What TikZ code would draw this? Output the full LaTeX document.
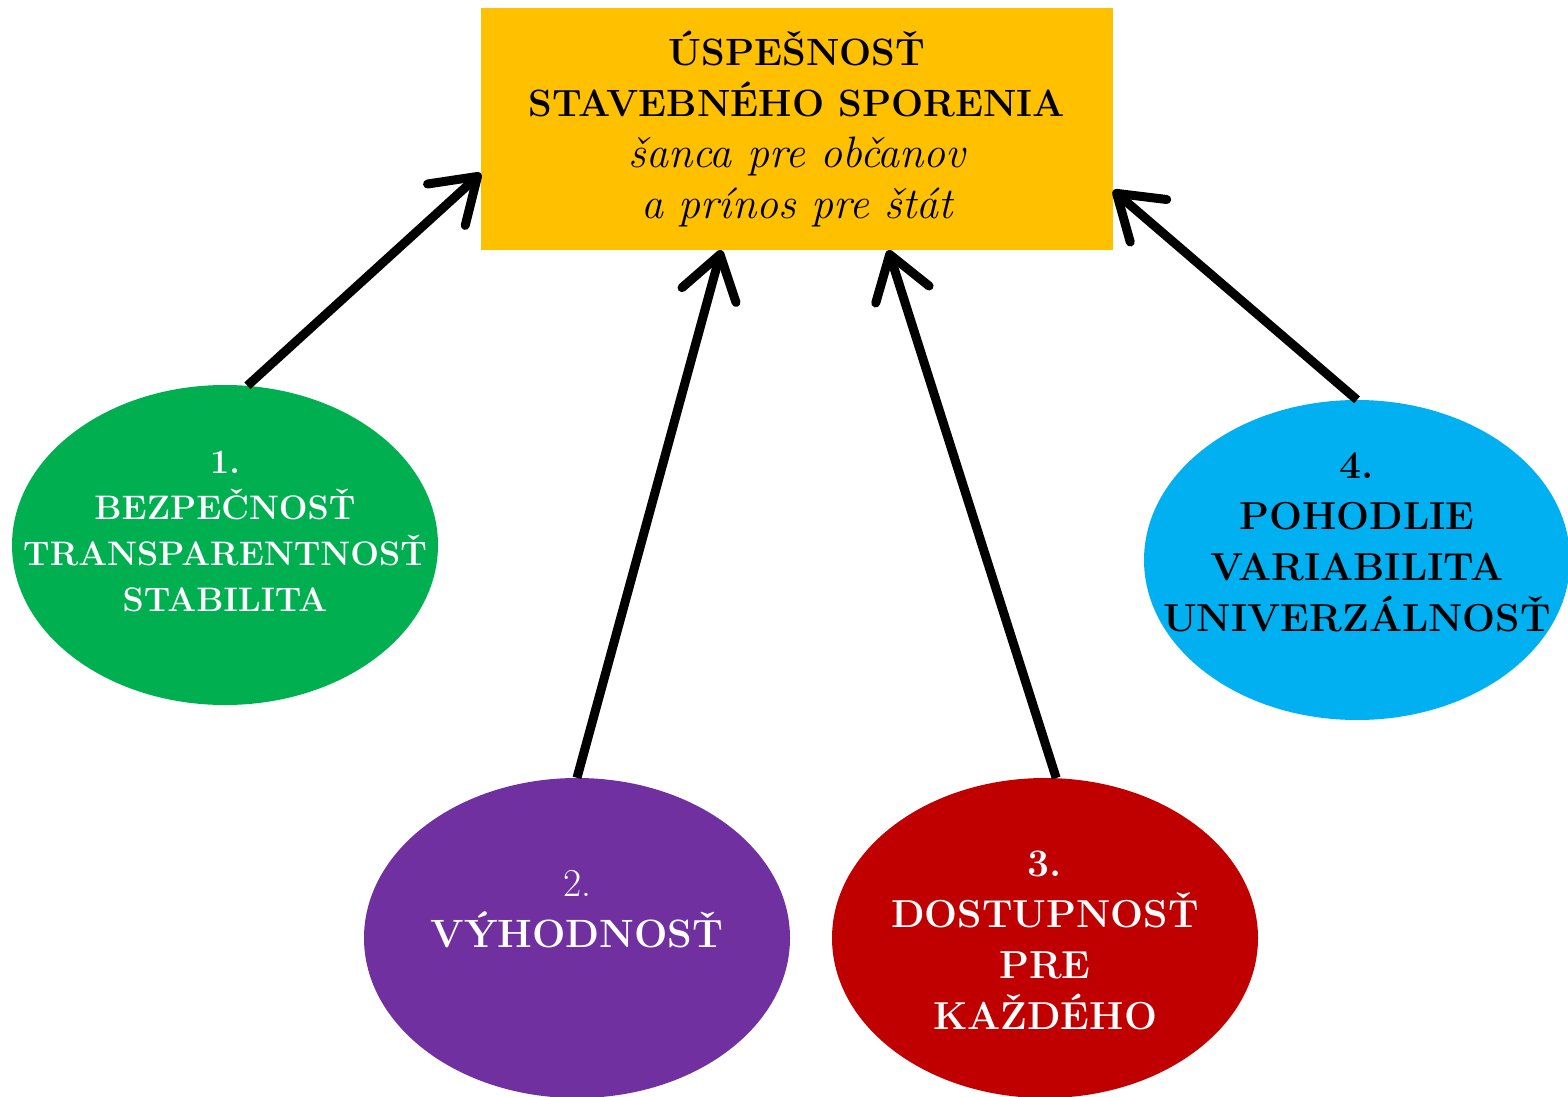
\documentclass[tikz,border=0pt]{standalone}
\usetikzlibrary{arrows.meta,shapes.geometric}
\definecolor{boxyellow}{HTML}{FFC000}
\definecolor{cgreen}{HTML}{00B050}
\definecolor{cpurple}{HTML}{7030A0}
\definecolor{cred}{HTML}{C00000}
\definecolor{cblue}{HTML}{00B0F0}
\begin{document}
\begin{tikzpicture}[x=1pt,y=-1pt,
  oval/.style={ellipse, minimum width=426pt, minimum height=320pt, inner sep=0pt},
  lbl/.style={align=center, inner sep=0pt},
  conn/.style={line width=9pt, -{Straight Barb[length=42pt,width=56pt,round]}}]
\useasboundingbox (0,0) rectangle (1568,1097);
\node[fill=boxyellow, minimum width=632pt, minimum height=242pt, inner sep=0pt, align=center,
  font=\fontsize{38}{51}\selectfont] (top) at (797,129)
  {\textbf{ÚSPEŠNOSŤ}\\ \textbf{STAVEBNÉHO SPORENIA}\\ {\fontsize{44}{51}\selectfont\itshape šanca pre občanov}\\ {\fontsize{44}{51}\selectfont\itshape a prínos pre štát}};
\node[oval, fill=cgreen] (g) at (225,545) {};
\node[oval, fill=cpurple] (p) at (577,938) {};
\node[oval, fill=cred] (r) at (1045,938) {};
\node[oval, fill=cblue] (b) at (1357,560) {};
\node[lbl, text=white, font=\fontsize{34}{46}\selectfont\bfseries] (gl) at (225,532)
  {1.\\ BEZPEČNOSŤ\\ TRANSPARENTNOSŤ\\ STABILITA};
\node[lbl, text=white, font=\fontsize{39.5}{51}\selectfont] (pl) at (577,909)
  {2.\\ \textbf{VÝHODNOSŤ}};
\node[lbl, text=white, font=\fontsize{39}{51}\selectfont\bfseries] (rl) at (1045,940)
  {3.\\ DOSTUPNOSŤ\\ PRE\\ KAŽDÉHO};
\node[lbl, text=black, font=\fontsize{39}{51}\selectfont\bfseries] (bl) at (1357,542)
  {4.\\ POHODLIE\\ VARIABILITA\\ UNIVERZÁLNOSŤ};
\draw[conn] (g.82) -- (top.188.6);
\draw[conn] (p.north) -- (top.238.6);
\draw[conn] (r.86) -- (top.307.1);
\draw[conn] (b.north) -- (top.349.4);
\end{tikzpicture}
\end{document}
